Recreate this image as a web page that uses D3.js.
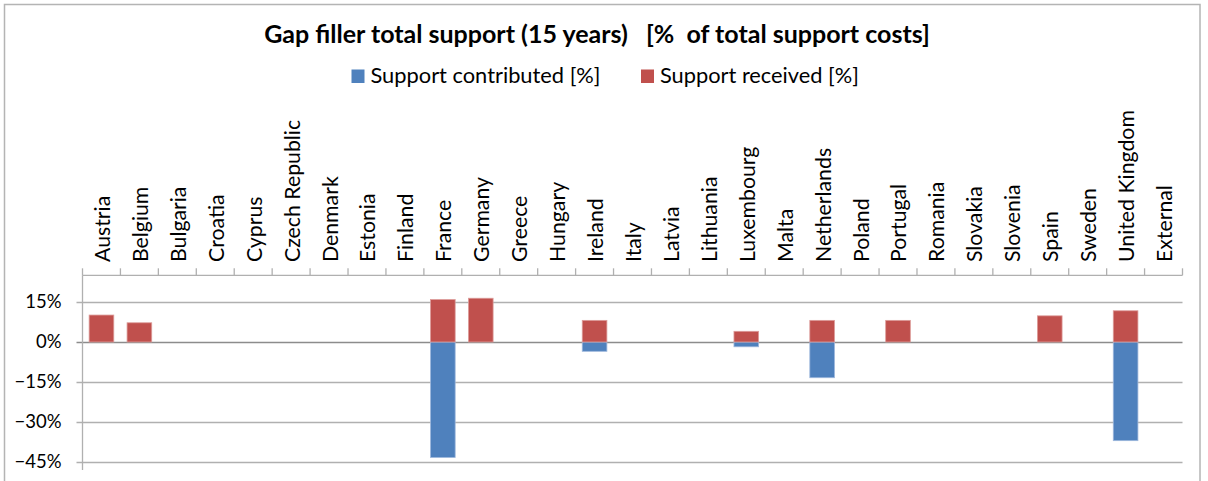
<!DOCTYPE html>
<html>
<head>
<meta charset="utf-8">
<script src="https://cdn.jsdelivr.net/npm/d3@7/dist/d3.min.js"></script>
<style>
  html, body { margin: 0; padding: 0; background: #fff; }
  svg { display: block; }
  text { font-family: Lato, "Open Sans", "Liberation Sans", sans-serif; fill: #000; }
</style>
</head>
<body>
<svg id="chart" width="1208" height="481"></svg>
<script>
// Member states plus the external share
const categories = ["Austria", "Belgium", "Bulgaria", "Croatia", "Cyprus", "Czech Republic",
  "Denmark", "Estonia", "Finland", "France", "Germany", "Greece", "Hungary", "Ireland",
  "Italy", "Latvia", "Lithuania", "Luxembourg", "Malta", "Netherlands", "Poland",
  "Portugal", "Romania", "Slovakia", "Slovenia", "Spain", "Sweden", "United Kingdom", "External"];

// Support contributed (negative, % of total support costs)
const contributed = [0, 0, 0, 0, 0, 0, 0, 0, 0, -43.3, 0, 0, 0, -3.5,
  0, 0, 0, -1.8, 0, -13.4, 0, 0, 0, 0, 0, 0, 0, -37.0, 0];

// Support received (positive, % of total support costs)
const received = [10.1, 7.2, 0, 0, 0, 0, 0, 0, 0, 15.9, 16.4, 0, 0, 8.1,
  0, 0, 0, 4.0, 0, 8.1, 0, 8.1, 0, 0, 0, 9.8, 0, 11.7, 0];

const yTicks = [-45, -30, -15, 0, 15];
const seriesNames = ["Support contributed [%]", "Support received [%]"];
const seriesColors = ["#4F81BD", "#C0504D"];
const titleText = "Gap filler total support (15 years)   [%  of total support costs]";

const svg = d3.select("#chart");
const W = 1208, H = 481;
const plot = { left: 82.5, right: 1182.5, top: 275.3, bottom: 462 };

// Outer chart frame
svg.append("rect")
  .attr("x", 4.5).attr("y", 4.5).attr("width", 1195.5).attr("height", H + 10)
  .attr("fill", "#fff").attr("stroke", "#b4b4b4").attr("stroke-width", 1.5);

// Scale a text's font size so it spans the given width
function fitWidth(sel, target) {
  const node = sel.node();
  const base = parseFloat(sel.attr("font-size"));
  const w = node.getComputedTextLength();
  sel.attr("font-size", (base * target / w).toFixed(2));
}

const x = d3.scaleBand().domain(categories).range([plot.left, plot.right]).paddingInner(0).paddingOuter(0);
const y = d3.scaleLinear().domain([-45, 25]).range([plot.bottom, plot.top]);
const barW = x.bandwidth() * 0.65;

// Horizontal gridlines
svg.append("g").selectAll("line").data(yTicks).join("line")
  .attr("x1", plot.left - 6).attr("x2", plot.right)
  .attr("y1", d => Math.round(y(d)) + 0.5).attr("y2", d => Math.round(y(d)) + 0.5)
  .attr("stroke", d => d === 0 ? "#8c8c8c" : "#b0b0b0")
  .attr("stroke-width", 1.3);

// Value axis labels
const yLab = svg.append("g").selectAll("text").data(yTicks).join("text")
  .attr("x", plot.left - 21)
  .attr("y", d => y(d))
  .attr("dy", "0.35em")
  .attr("text-anchor", "end")
  .attr("font-size", 18)
  .text(d => d3.format(".0%")(d / 100));
{
  const probe = yLab.filter(d => d === -45);
  const base = 18;
  const w = probe.node().getComputedTextLength();
  yLab.attr("font-size", (base * 47 / w).toFixed(2));
}

// Value axis line
svg.append("line")
  .attr("x1", plot.left).attr("x2", plot.left)
  .attr("y1", plot.top).attr("y2", plot.bottom + 8)
  .attr("stroke", "#b0b0b0").attr("stroke-width", 1.3);

// Category axis along the top edge
const xAxis = svg.append("g").attr("transform", `translate(0,${plot.top})`);
xAxis.append("line")
  .attr("x1", plot.left).attr("x2", plot.right)
  .attr("stroke", "#b0b0b0").attr("stroke-width", 1.3);
const boundaries = categories.map(c => x(c)).concat([plot.right]);
xAxis.selectAll("line.tick").data(boundaries).join("line")
  .attr("class", "tick")
  .attr("x1", d => d).attr("x2", d => d)
  .attr("y1", 0).attr("y2", -7)
  .attr("stroke", "#b0b0b0").attr("stroke-width", 1.3);

const catLab = svg.append("g").selectAll("text").data(categories).join("text")
  .attr("transform", d => `translate(${x(d) + x.bandwidth() / 2 + 1},262) rotate(-90)`)
  .attr("dy", "0.35em")
  .attr("text-anchor", "start")
  .attr("font-size", 17)
  .text(d => d);
{
  const probe = catLab.filter(d => d === "United Kingdom");
  const w = probe.node().getComputedTextLength();
  catLab.attr("font-size", (17 * 152 / w).toFixed(2));
}

// Stacked bars: received above zero, contributed below
const bars = svg.append("g");
bars.selectAll("rect.contrib").data(categories.map((c, i) => ({ c, v: contributed[i] })).filter(d => d.v !== 0))
  .join("rect").attr("class", "contrib")
  .attr("x", d => x(d.c) + (x.bandwidth() - barW) / 2)
  .attr("width", barW)
  .attr("y", y(0))
  .attr("height", d => y(d.v) - y(0))
  .attr("fill", seriesColors[0])
  .attr("stroke", "#9db7dc").attr("stroke-width", 0.8);
bars.selectAll("rect.recv").data(categories.map((c, i) => ({ c, v: received[i] })).filter(d => d.v !== 0))
  .join("rect").attr("class", "recv")
  .attr("x", d => x(d.c) + (x.bandwidth() - barW) / 2)
  .attr("width", barW)
  .attr("y", d => y(d.v))
  .attr("height", d => y(0) - y(d.v))
  .attr("fill", seriesColors[1])
  .attr("stroke", "#dc9c9a").attr("stroke-width", 0.8);

// Title
const title = svg.append("text")
  .attr("x", 597).attr("y", 43)
  .attr("text-anchor", "middle")
  .attr("font-weight", "bold")
  .attr("font-size", 21)
  .attr("xml:space", "preserve")
  .style("white-space", "pre")
  .text(titleText);
fitWidth(title, 666);

// Legend
const legendX = [351.5, 641];
const legendW = [230, 199];
const leg = svg.append("g");
seriesNames.forEach((name, i) => {
  leg.append("rect")
    .attr("x", legendX[i]).attr("y", 69.5).attr("width", 13).attr("height", 13.5)
    .attr("fill", seriesColors[i]);
  const t = leg.append("text")
    .attr("x", legendX[i] + 19).attr("y", 83)
    .attr("font-size", 19)
    .text(name);
  fitWidth(t, legendW[i]);
});
</script>
</body>
</html>
